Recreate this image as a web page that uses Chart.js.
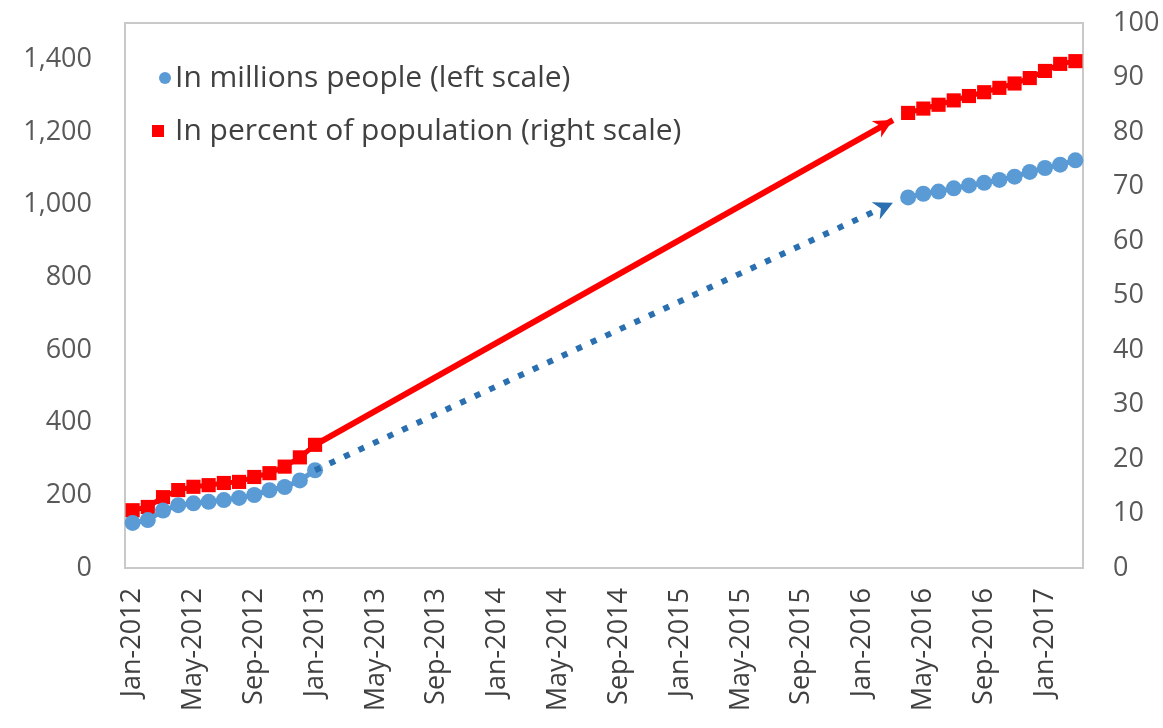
<!DOCTYPE html>
<html>
<head>
<meta charset="utf-8">
<script src="https://cdn.jsdelivr.net/npm/chart.js@4.4.1/dist/chart.umd.min.js"></script>
<style>
  html, body { margin: 0; padding: 0; background: #fff; }
  #wrap { width: 1163px; height: 728px; }
</style>
</head>
<body>
<div id="wrap"><canvas id="myChart" width="1163" height="728"></canvas></div>
<script>
// months Jan-2012 .. Mar-2017
var monthNames = ['Jan','Feb','Mar','Apr','May','Jun','Jul','Aug','Sep','Oct','Nov','Dec'];
var years = [2012, 2013, 2014, 2015, 2016, 2017];
var lastMonthIdx = 2; // Mar-2017

// every 4th month gets a tick label
var tickLabels = ['Jan-2012','May-2012','Sep-2012','Jan-2013','May-2013','Sep-2013','Jan-2014','May-2014',
  'Sep-2014','Jan-2015','May-2015','Sep-2015','Jan-2016','May-2016','Sep-2016','Jan-2017'];

// millions of people, Jan-2012..Jan-2013 and Apr-2016..Mar-2017
var peopleEarly = [124, 132, 158, 173, 178, 182, 187, 193, 201, 214, 223, 241, 269];
var peopleLate = [1020, 1030, 1036, 1045, 1053, 1060, 1068, 1077, 1090, 1101, 1110, 1122];
// percent of population, same months
var percentEarly = [10.6, 11.2, 13.0, 14.3, 14.9, 15.2, 15.6, 15.8, 16.7, 17.4, 18.6, 20.3, 22.6];
var percentLate = [83.5, 84.3, 85.0, 85.8, 86.6, 87.3, 88.1, 88.9, 89.9, 91.2, 92.5, 93.0];
// trend arrows Jan-2013 -> Mar-2016
var peopleArrow = [269, 1005];
var percentArrow = [22.6, 82.2];

var categories = [];
years.forEach(function(y){
  monthNames.forEach(function(m, i){
    if (y == 2017 && i > lastMonthIdx) return;
    categories.push(m + '-' + y);
  });
});

function spread(early, late, lateStart){
  var out = categories.map(function(){ return null; });
  early.forEach(function(v, i){ out[i] = v; });
  var s = categories.indexOf(lateStart);
  late.forEach(function(v, i){ out[s + i] = v; });
  return out;
}
function arrowSeries(vals, from, to){
  var out = categories.map(function(){ return null; });
  out[categories.indexOf(from)] = vals[0];
  out[categories.indexOf(to)] = vals[1];
  return out;
}

var BLUE = '#5B9BD5', BLUE_DARK = '#2A6FB0', RED = '#FF0000', GREY = '#595959', TEXT = '#404040';
var FONT = 'Open Sans';

var frame = {
  id: 'frame',
  beforeDatasetsDraw: function(chart){
    var a = chart.chartArea, ctx = chart.ctx;
    ctx.save();
    ctx.strokeStyle = '#C9C9C9';
    ctx.lineWidth = 2;
    ctx.strokeRect(a.left, a.top, a.right - a.left, a.bottom - a.top);
    ctx.restore();
  }
};

var arrowHeads = {
  id: 'arrowHeads',
  afterDatasetsDraw: function(chart){
    var ctx = chart.ctx;
    chart.data.datasets.forEach(function(ds, i){
      if (!ds.arrow) return;
      var pts = chart.getDatasetMeta(i).data.filter(function(p, j){ return ds.data[j] != null; });
      var a = pts[pts.length - 2], b = pts[pts.length - 1];
      var ang = Math.atan2(b.y - a.y, b.x - a.x);
      var len = 19, half = 9.5;
      ctx.save();
      ctx.translate(b.x, b.y);
      ctx.rotate(ang);
      ctx.fillStyle = ds.borderColor;
      ctx.beginPath();
      ctx.moveTo(0, 0);
      ctx.lineTo(-len, -half);
      ctx.lineTo(-len * 0.7, 0);
      ctx.lineTo(-len, half);
      ctx.closePath();
      ctx.fill();
      ctx.restore();
    });
  }
};

// legend box drawn inside the plot area
var innerLegend = {
  id: 'innerLegend',
  afterDraw: function(chart){
    var ctx = chart.ctx, a = chart.chartArea;
    var x = a.left + 50;
    ctx.save();
    ctx.font = '30px "' + FONT + '"';
    ctx.textBaseline = 'middle';
    ctx.textAlign = 'left';

    ctx.fillStyle = BLUE;
    ctx.beginPath();
    ctx.arc(x - 10, 78, 6, 0, Math.PI * 2);
    ctx.fill();
    ctx.fillStyle = TEXT;
    ctx.fillText(chart.data.datasets[2].label, x, 78);

    ctx.fillStyle = RED;
    ctx.fillRect(x - 23, 125, 12, 12);
    ctx.fillStyle = TEXT;
    ctx.fillText(chart.data.datasets[3].label, x, 131);
    ctx.restore();
  }
};

// fixed axis boxes so the plot area lands where it should
function fixBox(w, h){
  return function(s){
    if (w) s.width = w;
    if (h) s.height = h;
    s.paddingTop = 0; s.paddingBottom = 0;
    s.paddingLeft = 0; s.paddingRight = 0;
  };
}

var chart = new Chart(document.getElementById('myChart').getContext('2d'), {
  type: 'line',
  data: {
    labels: categories,
    datasets: [
      { label: 'people trend', data: arrowSeries(peopleArrow, 'Jan-2013', 'Mar-2016'), yAxisID: 'y',
        borderColor: BLUE_DARK, borderWidth: 6, borderDash: [6, 10], borderCapStyle: 'butt',
        pointRadius: 0, spanGaps: true, arrow: true },
      { label: 'percent trend', data: arrowSeries(percentArrow, 'Jan-2013', 'Mar-2016'), yAxisID: 'y1',
        borderColor: RED, borderWidth: 6, pointRadius: 0, spanGaps: true, arrow: true },
      { label: 'In millions people (left scale)', data: spread(peopleEarly, peopleLate, 'Apr-2016'), yAxisID: 'y',
        borderColor: BLUE, borderWidth: 5, pointStyle: 'circle', pointRadius: 8,
        pointBackgroundColor: BLUE, pointBorderWidth: 0, spanGaps: false },
      { label: 'In percent of population (right scale)', data: spread(percentEarly, percentLate, 'Apr-2016'), yAxisID: 'y1',
        borderColor: RED, borderWidth: 5, pointStyle: 'rect', pointRadius: 10,
        pointBackgroundColor: RED, pointBorderWidth: 0, spanGaps: false }
    ]
  },
  options: {
    responsive: false,
    animation: false,
    layout: { padding: { top: 23, left: 0, right: 0, bottom: 0 } },
    plugins: { legend: { display: false }, tooltip: { enabled: false } },
    scales: {
      x: {
        type: 'category',
        offset: true,
        grid: { display: false, drawTicks: false },
        border: { display: false },
        ticks: {
          autoSkip: false, minRotation: 90, maxRotation: 90, padding: 20,
          color: TEXT, font: { family: FONT, size: 27 },
          callback: function(val, i){
            var l = this.getLabelForValue(val);
            return tickLabels.indexOf(l) >= 0 ? l : null;
          }
        },
        afterFit: fixBox(0, 160)
      },
      y: {
        position: 'left', min: 0, max: 1500,
        grid: { display: false, drawTicks: false },
        border: { display: false },
        ticks: { stepSize: 200, includeBounds: false, padding: 33, color: GREY, font: { family: FONT, size: 27 } },
        afterFit: fixBox(125, 0)
      },
      y1: {
        position: 'right', min: 0, max: 100,
        grid: { display: false, drawTicks: false },
        border: { display: false },
        ticks: { stepSize: 10, padding: 30, color: GREY, font: { family: FONT, size: 27 } },
        afterFit: fixBox(80, 0)
      }
    }
  },
  plugins: [frame, arrowHeads, innerLegend]
});
</script>
</body>
</html>
